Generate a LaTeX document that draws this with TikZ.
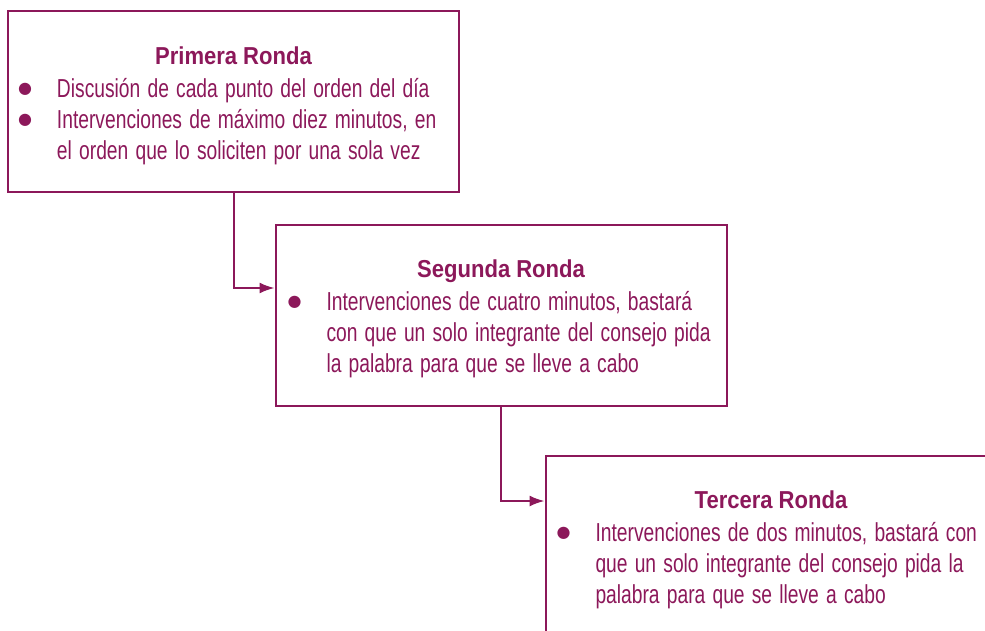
\documentclass[tikz,border=0pt]{standalone}
\usepackage{fontspec}
\setmainfont{Liberation Sans}[FakeStretch=0.74]
\newfontfamily\titlefont{Liberation Sans}[FakeStretch=0.9]
\newfontfamily\dotfont{DejaVu Sans}
\usepackage{tikz}
\usetikzlibrary{arrows.meta}

\definecolor{vino}{RGB}{140,24,90}

\newcommand{\punto}{\par\noindent\llap{\raisebox{4pt}{\dotfont\fontsize{16}{31}\selectfont ●}\hspace{25pt}}}
\newcommand{\titulo}[1]{{\centering\titlefont\fontsize{24.5}{31}\bfseries\spaceskip=6pt
  \rule{0pt}{25pt}#1\par}\vspace{2pt}}

\begin{document}
\begin{tikzpicture}[x=1pt,y=-1pt,
    ronda/.style={draw=vino, line width=2pt, rectangle, inner sep=0pt,
      minimum width=451pt, minimum height=181pt, text width=451pt,
      text=vino, font=\fontsize{26}{31}\selectfont},
    flecha/.style={draw=vino, line width=2pt, -{Latex[length=15pt,width=11pt]}}]
      \clip (0,0) rectangle (985,631);
      \useasboundingbox (0,0) rectangle (985,631);

      \node[ronda] (primera) at (233.5,102) {\titulo{Primera Ronda}%
        \raggedright\leftskip=49pt\spaceskip=7.2pt
        \punto Discusión de cada punto del orden del día
        \punto Intervenciones de máximo diez minutos, en\\
        el orden que lo soliciten por una sola vez\par};
      \node[ronda] (segunda) at (501,315.5) {\titulo{Segunda Ronda}%
        \raggedright\leftskip=51pt\spaceskip=7.2pt
        \punto Intervenciones de cuatro minutos, bastará\\
        con que un solo integrante del consejo pida\\
        la palabra para que se lleve a cabo\par};
      \node[ronda] (tercera) at (771,546.5) {\titulo{Tercera Ronda}%
        \raggedright\leftskip=50pt\spaceskip=7.2pt
        \punto Intervenciones de dos minutos, bastará con\\
        que un solo integrante del consejo pida la\\
        palabra para que se lleve a cabo\par};

      \draw[flecha] (primera.south) |- ([yshift=27.5pt]segunda.west);
      \draw[flecha] (segunda.south) |- ([yshift=45.5pt]tercera.west);
\end{tikzpicture}
\end{document}
